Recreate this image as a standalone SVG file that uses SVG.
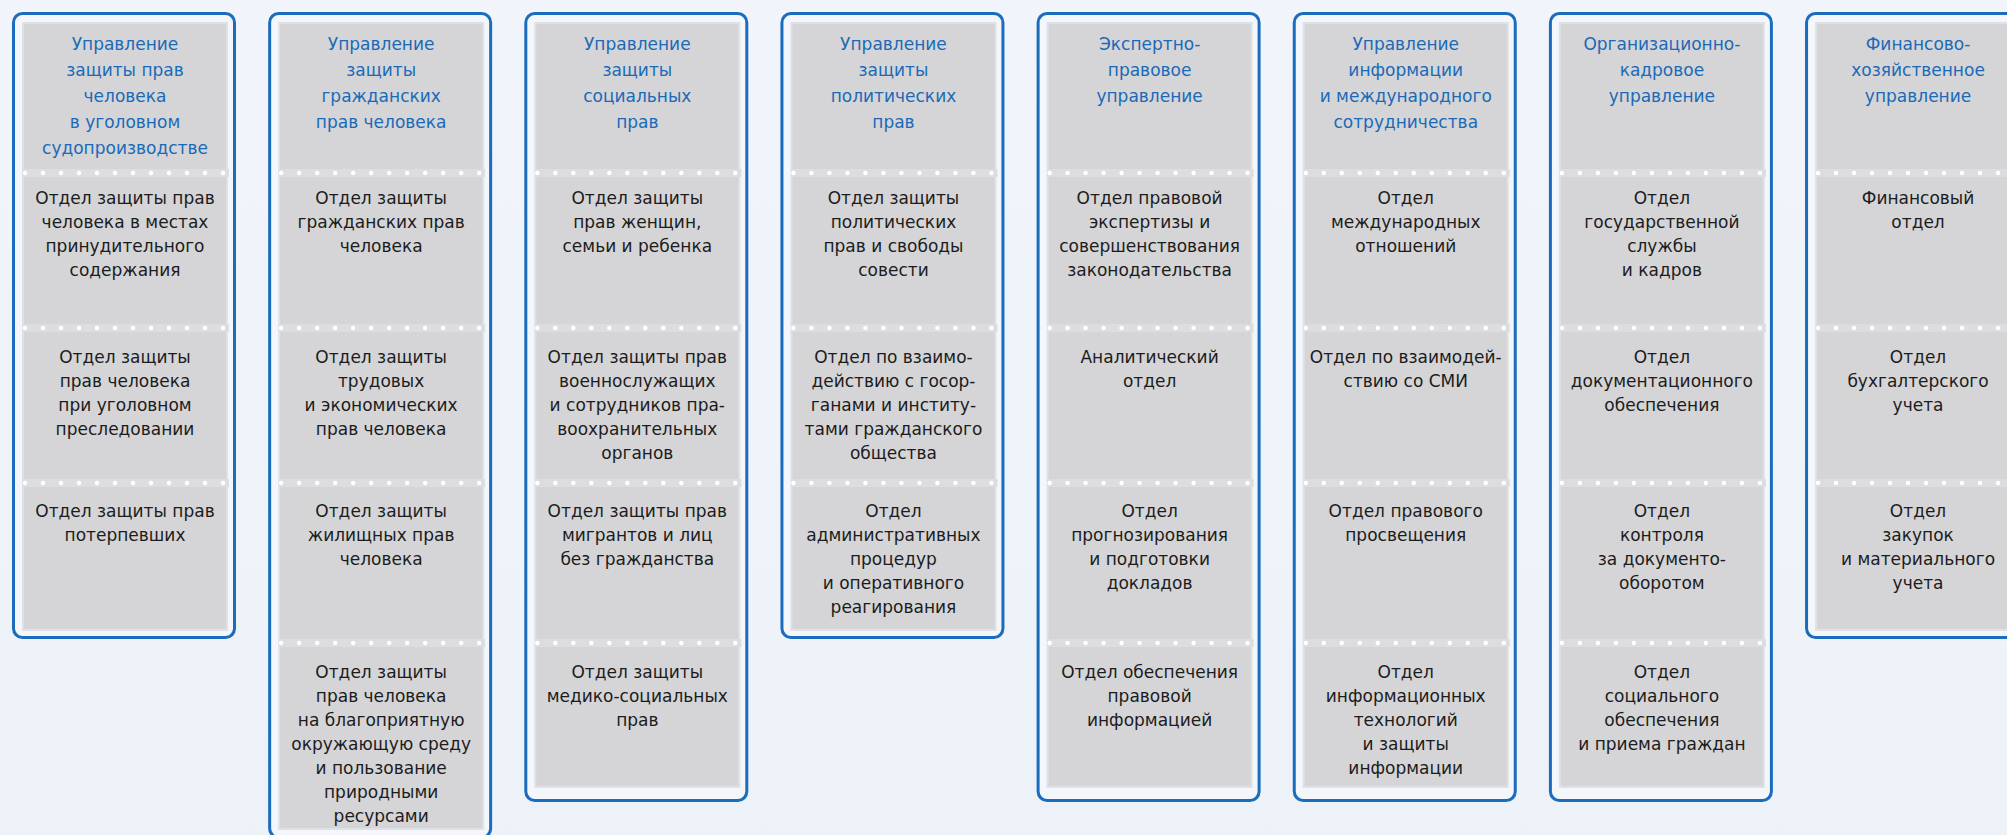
<svg xmlns="http://www.w3.org/2000/svg" width="2007" height="835" viewBox="0 0 2007 835">
  <style>
    .frame { fill: #f3f6fb; stroke: #1b6cbd; stroke-width: 3; }
    .panel { fill: #d5d5d7; stroke: #dfe1e5; stroke-width: 2; }
    .band { stroke: #dcdde1; stroke-width: 8; }
    .dots { stroke: #ffffff; stroke-width: 4.5; stroke-linecap: round; stroke-dasharray: 0 18; }
    .hd { font-family: "DejaVu Sans", Verdana, sans-serif; font-size: 17px; fill: #1a6ab8; text-anchor: middle; }
    .tx { font-family: "DejaVu Sans", Verdana, sans-serif; font-size: 17px; fill: #1c1c1c; text-anchor: middle; }
  </style>
  <defs>
    <linearGradient id="bg" x1="0" y1="0" x2="0" y2="1">
      <stop offset="0" stop-color="#f1f5fb"/>
      <stop offset="1" stop-color="#edf2f9"/>
    </linearGradient>
    <g id="div">
      <line class="band" x1="11" y1="0" x2="217" y2="0"/>
      <line class="dots" x1="13" y1="0" x2="222" y2="0"/>
    </g>
  </defs>
  <rect x="0" y="0" width="2007" height="835" fill="url(#bg)"/>

  <g id="connectors"></g>

  <!-- Column 1 -->
  <g id="col1" transform="translate(12,0)">
    <rect class="frame" x="1.5" y="13.5" width="221" height="624" rx="9"/>
    <rect class="panel" x="11" y="23" width="204" height="607"/>
    <use href="#div" y="173"/><use href="#div" y="328"/><use href="#div" y="483"/>
    <text class="hd"><tspan x="113" y="50">Управление</tspan><tspan x="113" y="76">защиты прав</tspan><tspan x="113" y="102">человека</tspan><tspan x="113" y="128">в уголовном</tspan><tspan x="113" y="154">судопроизводстве</tspan></text>
    <text class="tx"><tspan x="113" y="204">Отдел защиты прав</tspan><tspan x="113" y="228">человека в местах</tspan><tspan x="113" y="252">принудительного</tspan><tspan x="113" y="276">содержания</tspan></text>
    <text class="tx"><tspan x="113" y="363">Отдел защиты</tspan><tspan x="113" y="387">прав человека</tspan><tspan x="113" y="411">при уголовном</tspan><tspan x="113" y="435">преследовании</tspan></text>
    <text class="tx"><tspan x="113" y="517">Отдел защиты прав</tspan><tspan x="113" y="541">потерпевших</tspan></text>
  </g>

  <!-- Column 2 -->
  <g id="col2" transform="translate(268.15,0)">
    <rect class="frame" x="1.5" y="13.5" width="221" height="824" rx="9"/>
    <rect class="panel" x="11" y="23" width="204" height="806"/>
    <use href="#div" y="173"/><use href="#div" y="328"/><use href="#div" y="483"/><use href="#div" y="643"/>
    <text class="hd"><tspan x="113" y="50">Управление</tspan><tspan x="113" y="76">защиты</tspan><tspan x="113" y="102">гражданских</tspan><tspan x="113" y="128">прав человека</tspan></text>
    <text class="tx"><tspan x="113" y="204">Отдел защиты</tspan><tspan x="113" y="228">гражданских прав</tspan><tspan x="113" y="252">человека</tspan></text>
    <text class="tx"><tspan x="113" y="363">Отдел защиты</tspan><tspan x="113" y="387">трудовых</tspan><tspan x="113" y="411">и экономических</tspan><tspan x="113" y="435">прав человека</tspan></text>
    <text class="tx"><tspan x="113" y="517">Отдел защиты</tspan><tspan x="113" y="541">жилищных прав</tspan><tspan x="113" y="565">человека</tspan></text>
    <text class="tx"><tspan x="113" y="678">Отдел защиты</tspan><tspan x="113" y="702">прав человека</tspan><tspan x="113" y="726">на благоприятную</tspan><tspan x="113" y="750">окружающую среду</tspan><tspan x="113" y="774">и пользование</tspan><tspan x="113" y="798">природными</tspan><tspan x="113" y="822">ресурсами</tspan></text>
  </g>

  <!-- Column 3 -->
  <g id="col3" transform="translate(524.3,0)">
    <rect class="frame" x="1.5" y="13.5" width="221" height="787" rx="9"/>
    <rect class="panel" x="11" y="23" width="204" height="764"/>
    <use href="#div" y="173"/><use href="#div" y="328"/><use href="#div" y="483"/><use href="#div" y="643"/>
    <text class="hd"><tspan x="113" y="50">Управление</tspan><tspan x="113" y="76">защиты</tspan><tspan x="113" y="102">социальных</tspan><tspan x="113" y="128">прав</tspan></text>
    <text class="tx"><tspan x="113" y="204">Отдел защиты</tspan><tspan x="113" y="228">прав женщин,</tspan><tspan x="113" y="252">семьи и ребенка</tspan></text>
    <text class="tx"><tspan x="113" y="363">Отдел защиты прав</tspan><tspan x="113" y="387">военнослужащих</tspan><tspan x="113" y="411">и сотрудников пра-</tspan><tspan x="113" y="435">воохранительных</tspan><tspan x="113" y="459">органов</tspan></text>
    <text class="tx"><tspan x="113" y="517">Отдел защиты прав</tspan><tspan x="113" y="541">мигрантов и лиц</tspan><tspan x="113" y="565">без гражданства</tspan></text>
    <text class="tx"><tspan x="113" y="678">Отдел защиты</tspan><tspan x="113" y="702">медико-социальных</tspan><tspan x="113" y="726">прав</tspan></text>
  </g>

  <!-- Column 4 -->
  <g id="col4" transform="translate(780.45,0)">
    <rect class="frame" x="1.5" y="13.5" width="221" height="624" rx="9"/>
    <rect class="panel" x="11" y="23" width="204" height="607"/>
    <use href="#div" y="173"/><use href="#div" y="328"/><use href="#div" y="483"/>
    <text class="hd"><tspan x="113" y="50">Управление</tspan><tspan x="113" y="76">защиты</tspan><tspan x="113" y="102">политических</tspan><tspan x="113" y="128">прав</tspan></text>
    <text class="tx"><tspan x="113" y="204">Отдел защиты</tspan><tspan x="113" y="228">политических</tspan><tspan x="113" y="252">прав и свободы</tspan><tspan x="113" y="276">совести</tspan></text>
    <text class="tx"><tspan x="113" y="363">Отдел по взаимо-</tspan><tspan x="113" y="387">действию с госор-</tspan><tspan x="113" y="411">ганами и институ-</tspan><tspan x="113" y="435">тами гражданского</tspan><tspan x="113" y="459">общества</tspan></text>
    <text class="tx"><tspan x="113" y="517">Отдел</tspan><tspan x="113" y="541">административных</tspan><tspan x="113" y="565">процедур</tspan><tspan x="113" y="589">и оперативного</tspan><tspan x="113" y="613">реагирования</tspan></text>
  </g>

  <!-- Column 5 -->
  <g id="col5" transform="translate(1036.6,0)">
    <rect class="frame" x="1.5" y="13.5" width="221" height="787" rx="9"/>
    <rect class="panel" x="11" y="23" width="204" height="764"/>
    <use href="#div" y="173"/><use href="#div" y="328"/><use href="#div" y="483"/><use href="#div" y="643"/>
    <text class="hd"><tspan x="113" y="50">Экспертно-</tspan><tspan x="113" y="76">правовое</tspan><tspan x="113" y="102">управление</tspan></text>
    <text class="tx"><tspan x="113" y="204">Отдел правовой</tspan><tspan x="113" y="228">экспертизы и</tspan><tspan x="113" y="252">совершенствования</tspan><tspan x="113" y="276">законодательства</tspan></text>
    <text class="tx"><tspan x="113" y="363">Аналитический</tspan><tspan x="113" y="387">отдел</tspan></text>
    <text class="tx"><tspan x="113" y="517">Отдел</tspan><tspan x="113" y="541">прогнозирования</tspan><tspan x="113" y="565">и подготовки</tspan><tspan x="113" y="589">докладов</tspan></text>
    <text class="tx"><tspan x="113" y="678">Отдел обеспечения</tspan><tspan x="113" y="702">правовой</tspan><tspan x="113" y="726">информацией</tspan></text>
  </g>

  <!-- Column 6 -->
  <g id="col6" transform="translate(1292.75,0)">
    <rect class="frame" x="1.5" y="13.5" width="221" height="787" rx="9"/>
    <rect class="panel" x="11" y="23" width="204" height="764"/>
    <use href="#div" y="173"/><use href="#div" y="328"/><use href="#div" y="483"/><use href="#div" y="643"/>
    <text class="hd"><tspan x="113" y="50">Управление</tspan><tspan x="113" y="76">информации</tspan><tspan x="113" y="102">и международного</tspan><tspan x="113" y="128">сотрудничества</tspan></text>
    <text class="tx"><tspan x="113" y="204">Отдел</tspan><tspan x="113" y="228">международных</tspan><tspan x="113" y="252">отношений</tspan></text>
    <text class="tx"><tspan x="113" y="363">Отдел по взаимодей-</tspan><tspan x="113" y="387">ствию со СМИ</tspan></text>
    <text class="tx"><tspan x="113" y="517">Отдел правового</tspan><tspan x="113" y="541">просвещения</tspan></text>
    <text class="tx"><tspan x="113" y="678">Отдел</tspan><tspan x="113" y="702">информационных</tspan><tspan x="113" y="726">технологий</tspan><tspan x="113" y="750">и защиты</tspan><tspan x="113" y="774">информации</tspan></text>
  </g>

  <!-- Column 7 -->
  <g id="col7" transform="translate(1548.9,0)">
    <rect class="frame" x="1.5" y="13.5" width="221" height="787" rx="9"/>
    <rect class="panel" x="11" y="23" width="204" height="764"/>
    <use href="#div" y="173"/><use href="#div" y="328"/><use href="#div" y="483"/><use href="#div" y="643"/>
    <text class="hd"><tspan x="113" y="50">Организационно-</tspan><tspan x="113" y="76">кадровое</tspan><tspan x="113" y="102">управление</tspan></text>
    <text class="tx"><tspan x="113" y="204">Отдел</tspan><tspan x="113" y="228">государственной</tspan><tspan x="113" y="252">службы</tspan><tspan x="113" y="276">и кадров</tspan></text>
    <text class="tx"><tspan x="113" y="363">Отдел</tspan><tspan x="113" y="387">документационного</tspan><tspan x="113" y="411">обеспечения</tspan></text>
    <text class="tx"><tspan x="113" y="517">Отдел</tspan><tspan x="113" y="541">контроля</tspan><tspan x="113" y="565">за документо-</tspan><tspan x="113" y="589">оборотом</tspan></text>
    <text class="tx"><tspan x="113" y="678">Отдел</tspan><tspan x="113" y="702">социального</tspan><tspan x="113" y="726">обеспечения</tspan><tspan x="113" y="750">и приема граждан</tspan></text>
  </g>

  <!-- Column 8 -->
  <g id="col8" transform="translate(1805.05,0)">
    <rect class="frame" x="1.5" y="13.5" width="221" height="624" rx="9"/>
    <rect class="panel" x="11" y="23" width="204" height="607"/>
    <use href="#div" y="173"/><use href="#div" y="328"/><use href="#div" y="483"/>
    <text class="hd"><tspan x="113" y="50">Финансово-</tspan><tspan x="113" y="76">хозяйственное</tspan><tspan x="113" y="102">управление</tspan></text>
    <text class="tx"><tspan x="113" y="204">Финансовый</tspan><tspan x="113" y="228">отдел</tspan></text>
    <text class="tx"><tspan x="113" y="363">Отдел</tspan><tspan x="113" y="387">бухгалтерского</tspan><tspan x="113" y="411">учета</tspan></text>
    <text class="tx"><tspan x="113" y="517">Отдел</tspan><tspan x="113" y="541">закупок</tspan><tspan x="113" y="565">и материального</tspan><tspan x="113" y="589">учета</tspan></text>
  </g>
</svg>
